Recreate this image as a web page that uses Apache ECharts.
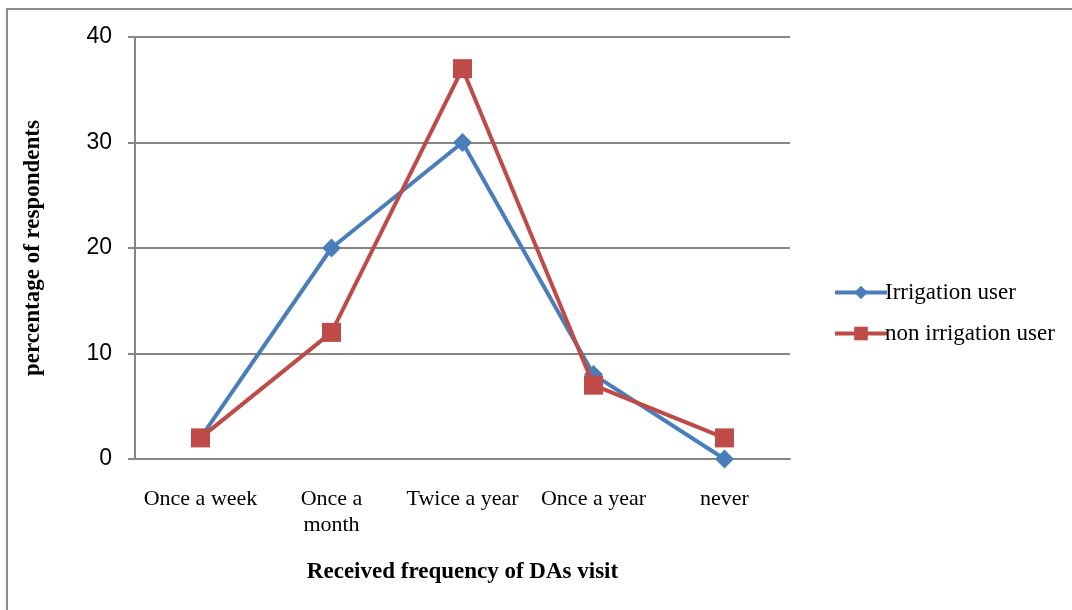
<!DOCTYPE html>
<html><head><meta charset="utf-8">
<script src="https://cdn.jsdelivr.net/npm/echarts@6/dist/echarts.min.js"></script>
<style>
html,body{margin:0;padding:0;background:#fff;}
#frame{position:absolute;left:6px;top:8px;width:1080px;height:620px;border-left:2px solid #8c8c8c;border-top:2px solid #8c8c8c;box-sizing:border-box;}
#c{position:absolute;left:0;top:0;width:1072px;height:610px;}
</style></head>
<body>
<div id="frame"></div>
<div id="c"></div>
<script>
const categories = ['Once a week', 'Once a\nmonth', 'Twice a year', 'Once a year', 'never'];
const irrigationUser = [2, 20, 30, 8, 0];
const nonIrrigationUser = [2, 12, 37, 7, 2];
const yTicks = [0, 10, 20, 30, 40];

const chart = echarts.init(document.getElementById('c'));
chart.setOption({
  animation: false,
  grid: {left: 135, right: 282, top: 37, bottom: 151, containLabel: false},
  legend: {
    orient: 'vertical', left: 828, top: 276, itemGap: 18,
    itemWidth: 52, itemHeight: 17,
    lineStyle: {width: 4},
    textStyle: {fontFamily: 'Liberation Serif', fontSize: 23, color: '#000', padding: [0,0,0,-7]},
    data: ['Irrigation user', 'non irrigation user']
  },
  xAxis: {
    type: 'category', data: categories, boundaryGap: true,
    axisLine: {lineStyle: {color: '#868686', width: 2}},
    axisTick: {show: false},
    axisLabel: {fontFamily: 'Liberation Serif', fontSize: 22, color: '#000', margin: 27, lineHeight: 26, interval: 0},
    name: 'Received frequency of DAs visit', nameLocation: 'middle', nameGap: 102,
    nameTextStyle: {fontFamily: 'Liberation Serif', fontSize: 23, fontWeight: 'bold', color: '#000'}
  },
  yAxis: {
    type: 'value', min: yTicks[0], max: yTicks[yTicks.length-1], interval: 10,
    axisLine: {show: true, lineStyle: {color: '#868686', width: 2}},
    axisTick: {show: true, length: 7, lineStyle: {color: '#868686', width: 2}},
    splitLine: {lineStyle: {color: '#868686', width: 2}},
    axisLabel: {fontFamily: 'Liberation Sans', fontSize: 23, color: '#000', margin: 23},
    name: 'percentage of respondents', nameLocation: 'middle', nameGap: 90, nameRotate: 90,
    nameTextStyle: {fontFamily: 'Liberation Serif', fontSize: 23, fontWeight: 'bold', color: '#000'}
  },
  series: [
    {name: 'Irrigation user', type: 'line', data: irrigationUser, symbol: 'diamond', symbolSize: 19,
     lineStyle: {color: '#4A7EBB', width: 4}, itemStyle: {color: '#4A7EBB'}, z: 2},
    {name: 'non irrigation user', type: 'line', data: nonIrrigationUser, symbol: 'rect', symbolSize: 19,
     lineStyle: {color: '#BE4B48', width: 4}, itemStyle: {color: '#BE4B48'}, z: 3}
  ]
});
</script>
</body></html>
